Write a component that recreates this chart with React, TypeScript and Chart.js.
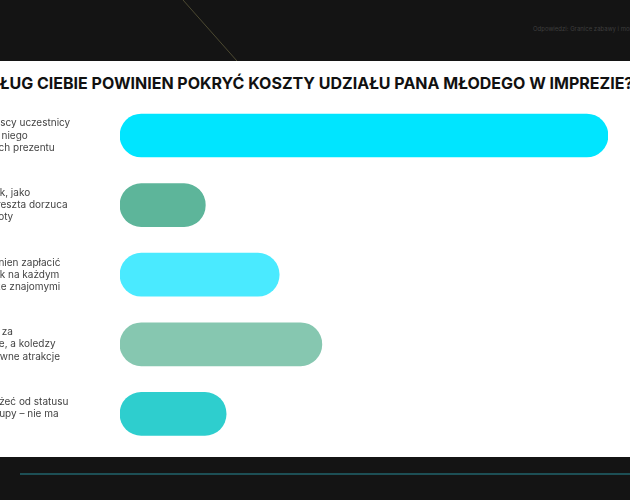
import { useEffect, useRef } from 'react';
import Chart from 'chart.js/auto';

// survey question + answers (the left part of the labels is cut off by the page edge)
const title = 'KTO WEDŁUG CIEBIE POWINIEN POKRYĆ KOSZTY UDZIAŁU PANA MŁODEGO W IMPREZIE?';

const answers: string[][] = [
  ['Płacą wszyscy uczestnicy', 'imprezy za niego', 'w ramach ich prezentu'],
  ['Wnosi datek, jako', 'prezent, a reszta dorzuca', 'różnicę kwoty'],
  ['Facet powinien zapłacić', 'za siebie jak na każdym', 'wypadzie ze znajomymi'],
  ['Sam opłaci za', 'bilet, napoje, a koledzy', 'fundują główne atrakcje'],
  ['Winno zależeć od statusu', 'gościa z grupy – nie ma', 'reguły'],
];

const shares = [46.9, 8.2, 15.3, 19.4, 10.2];
const barColors = ['#00e5ff', '#5db59a', '#4aeaff', '#86c7b0', '#2ecece'];

function AnswersChart() {
  const canvasRef = useRef<HTMLCanvasElement | null>(null);
  const chartRef = useRef<Chart<'bar'> | null>(null);

  useEffect(() => {
    if (!canvasRef.current) return;
    const ctx = canvasRef.current.getContext('2d');
    if (!ctx) return;

    chartRef.current = new Chart(ctx, {
      type: 'bar',
      data: {
        labels: answers,
        datasets: [{
          data: shares,
          backgroundColor: barColors,
          borderRadius: 40,
          borderSkipped: false,
          barThickness: 43,
        }],
      },
      options: {
        indexAxis: 'y',
        responsive: false,
        animation: false,
        layout: { padding: { left: 0, right: 32, top: 39.7, bottom: 0 } },
        plugins: {
          legend: { display: false },
          tooltip: { enabled: false },
        },
        scales: {
          x: { display: false, min: 0, max: Math.max(...shares) },
          y: {
            grid: { display: false },
            border: { display: false },
            ticks: {
              crossAlign: 'far',
              padding: 0,
              color: '#444444',
              font: { family: 'Inter', size: 10, lineHeight: 1.22 },
            },
            afterFit: (scale) => { scale.width = 173; },
          },
        },
      },
    });

    return () => {
      if (chartRef.current) {
        chartRef.current.destroy();
        chartRef.current = null;
      }
    };
  }, []);

  return <canvas ref={canvasRef} width={693} height={406} style={{ display: 'block', width: 693, height: 406 }} />;
}

export default function App() {
  return (
    <div style={{ position: 'fixed', inset: 0, background: '#141414', overflow: 'hidden' }}>
      <svg width={630} height={61} style={{ position: 'absolute', left: 0, top: 0 }}>
        <line x1={183} y1={0} x2={237} y2={61} stroke="#4d4a32" strokeWidth={1} />
      </svg>
      <span style={{
        position: 'absolute', left: 533, top: 25, fontSize: 6, color: '#3e3e3e',
        fontFamily: 'Inter, sans-serif', whiteSpace: 'nowrap',
      }}>
        Odpowiedzi: Granice zabawy i moralności
      </span>
      <div style={{ position: 'absolute', left: -53, top: 61, width: 693, height: 396, background: '#ffffff' }} />
      <div style={{
        position: 'absolute', left: -121.3, top: 72.7, width: 800, textAlign: 'center',
        fontFamily: 'Inter, sans-serif', fontWeight: 700, fontSize: 16, lineHeight: '20px',
        color: '#111111', whiteSpace: 'nowrap',
      }}>
        {title}
      </div>
      <div style={{ position: 'absolute', left: -53, top: 61, width: 693, height: 406 }}>
        <AnswersChart />
      </div>
      <div style={{ position: 'absolute', left: 20, top: 473, width: 640, height: 2, background: '#1d4f55' }} />
    </div>
  );
}
